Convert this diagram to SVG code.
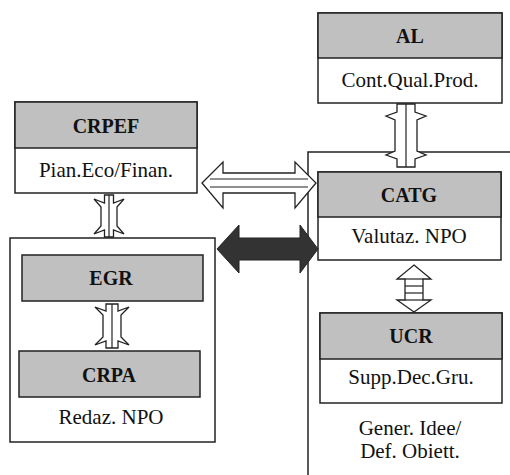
<svg xmlns="http://www.w3.org/2000/svg" width="510" height="475" viewBox="0 0 510 475">
<style>
.frame{fill:none;stroke:#222;stroke-width:1.5}
.hd{fill:#c0c0c0;stroke:#222;stroke-width:1.5}
.bd{fill:#fff;stroke:#222;stroke-width:1.5}
text{font-family:'Liberation Serif','DejaVu Serif','Times New Roman',Times,serif;fill:#111;text-anchor:middle}
.ht{font-weight:bold;font-size:20px}
.bt{font-size:21px}
.wa{fill:#fff;stroke:#222;stroke-width:1.3;stroke-linejoin:miter}
.ln{fill:none;stroke:#222;stroke-width:1.2}
.ba{fill:#333;stroke:#222;stroke-width:1}
</style>
<rect width="510" height="475" fill="#fff"/>
<g id="groupLeft"><rect class="frame" x="10" y="238" width="205" height="204"/></g>
<g id="groupRight"><rect class="frame" x="308" y="152" width="260" height="400"/></g>
<g id="CRPEF">
<rect class="bd" x="15" y="102" width="182" height="91"/>
<rect class="hd" x="15" y="102" width="182" height="46"/>
<text class="ht" x="106" y="133">CRPEF</text>
<text class="bt" x="106" y="177">Pian.Eco/Finan.</text>
</g>
<g id="AL">
<rect class="bd" x="318" y="13" width="184" height="90"/>
<rect class="hd" x="318" y="13" width="184" height="45"/>
<text class="ht" x="410" y="43">AL</text>
<text class="bt" x="410" y="87">Cont.Qual.Prod.</text>
</g>
<g id="CATG">
<rect class="bd" x="318" y="172" width="183" height="88"/>
<rect class="hd" x="318" y="172" width="183" height="45"/>
<text class="ht" x="409" y="202">CATG</text>
<text class="bt" x="409" y="243">Valutaz. NPO</text>
</g>
<g id="UCR">
<rect class="bd" x="320" y="313" width="182" height="90"/>
<rect class="hd" x="320" y="313" width="182" height="46"/>
<text class="ht" x="411" y="343">UCR</text>
<text class="bt" x="411" y="384">Supp.Dec.Gru.</text>
<text class="bt" x="410" y="435">Gener. Idee/</text>
<text class="bt" x="410" y="458">Def. Obiett.</text>
</g>
<g id="EGR">
<rect class="hd" x="22" y="255" width="181" height="46"/>
<text class="ht" x="111" y="285">EGR</text>
</g>
<g id="CRPA">
<rect class="hd" x="19" y="351" width="181" height="46"/>
<text class="ht" x="109" y="382">CRPA</text>
<text class="bt" x="111" y="424">Redaz. NPO</text>
</g>
<g id="connectors">
<polygon class="wa" points="104.5,195 113.5,195 113.5,203 124,199 117,207 117,226 124,234 113.5,230 113.5,237 104.5,237 104.5,230 94,234 101,226 101,207 94,199 104.5,203"/>
<line class="ln" x1="109" y1="195" x2="109" y2="237"/>
<polygon class="wa" points="106,304 118,304 118,311 129,307 121,315 121,337 129,345 118,341 118,348 106,348 106,341 95,345 103,337 103,315 95,307 106,311"/>
<line class="ln" x1="112" y1="304" x2="112" y2="348"/>
<polygon class="wa" points="397,104 415,104 415,112 426,116 417,120 417,151 426,155 415,159 415,167 397,167 397,159 386,155 395,151 395,120 386,116 397,112"/>
<line class="ln" x1="406" y1="104" x2="406" y2="167"/>
<polygon class="wa" points="202,183 223,162 223,173 295,173 295,162 316,183 295,208 295,193 223,193 223,208"/>
<line class="ln" x1="210" y1="179" x2="308" y2="179"/>
<line class="ln" x1="210" y1="187" x2="308" y2="187"/>
<polygon class="ba" points="217,249 239,225 239,238 300,238 300,225 318,249 300,273 300,260 239,260 239,273"/>
<polygon class="wa" points="414,265 431,279 423,279 423,300 431,300 414,312 397,300 405,300 405,279 397,279"/>
<line class="ln" x1="405" y1="279" x2="423" y2="279"/>
<line class="ln" x1="405" y1="286" x2="423" y2="286"/>
<line class="ln" x1="405" y1="293" x2="423" y2="293"/>
<line class="ln" x1="405" y1="300" x2="423" y2="300"/>
</g>
</svg>
